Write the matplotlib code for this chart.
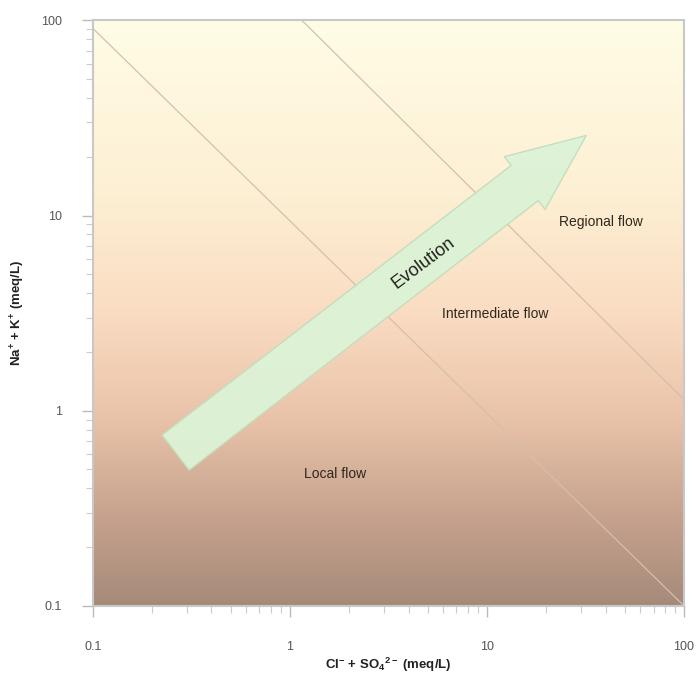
import numpy as np
import matplotlib
matplotlib.use("Agg")
import matplotlib.pyplot as plt
from matplotlib.colors import LinearSegmentedColormap

plt.rcParams['font.family'] = ['Liberation Sans', 'DejaVu Sans']

# boundary lines between flow systems (x, y in meq/L)
local_line_x = [0.1, 100]
local_line_y = [91, 0.1]
regional_line_x = [1.15, 100]
regional_line_y = [100, 1.14]

# evolution arrow, tail -> tip
arrow_tail = (0.263, 0.61)
arrow_tip = (31.9, 25.7)

# zone labels
zone_names = ['Local flow', 'Intermediate flow', 'Regional flow']
zone_x = [1.69, 11.0, 38.0]
zone_y = [0.475, 3.14, 9.3]
evo_pos = (4.77, 5.74)

ticks = [0.1, 1, 10, 100]
tick_labels = ['0.1', '1', '10', '100']

fig = plt.figure(figsize=(6.98, 6.77), dpi=100)
ax = fig.add_axes([0.133, 0.105, 0.847, 0.865])
ax.set_xscale('log')
ax.set_yscale('log')
ax.set_xlim(0.1, 100)
ax.set_ylim(0.1, 100)

# vertical background gradient, yellow at top to brown at bottom
bg = LinearSegmentedColormap.from_list('bg', [
    (0.0, '#a68a79'),
    (0.15, '#c6a28e'),
    (0.32, '#e9c3a9'),
    (0.5, '#fadcc2'),
    (0.7, '#fdefd3'),
    (1.0, '#fffde6'),
])
grad = np.linspace(0, 1, 256).reshape(-1, 1)
ax.imshow(grad, extent=[0, 1, 0, 1], transform=ax.transAxes, cmap=bg,
          aspect='auto', origin='lower', zorder=0)

ax.plot(local_line_x, local_line_y, color='#d4bfad', lw=0.9, zorder=1)
ax.plot(regional_line_x, regional_line_y, color='#d4bfad', lw=0.9, zorder=1)

ax.annotate('', xy=arrow_tip, xytext=arrow_tail,
            arrowprops=dict(arrowstyle='simple,head_length=56,head_width=48,tail_width=32',
                            mutation_scale=1, fc='#dcf3d6', ec='#c4dcbc', lw=1,
                            shrinkA=0, shrinkB=0, alpha=0.95),
            zorder=2)

ax.text(evo_pos[0], evo_pos[1], 'Evolution', rotation=37, fontsize=13,
        color='#22221c', ha='center', va='center', rotation_mode='anchor', zorder=3)
for name, zx, zy in zip(zone_names, zone_x, zone_y):
    ax.text(zx, zy, name, fontsize=10, color='#2f281e', ha='center', va='center', zorder=3)

ax.set_xticks(ticks)
ax.set_xticklabels(tick_labels)
ax.set_yticks(ticks)
ax.set_yticklabels(tick_labels)
ax.tick_params(which='major', direction='out', length=8, width=1, color='#bbbbbb',
               labelsize=9, labelcolor='#555555')
ax.tick_params(axis='x', which='major', pad=17)
ax.tick_params(axis='y', which='major', pad=14)
ax.tick_params(which='minor', direction='out', length=5, width=0.8, color='#cccccc')

for s in ax.spines.values():
    s.set_color('#c8c8c8')
    s.set_linewidth(1.5)

ax.set_xlabel(r'$\mathregular{Cl^{-}}$ + $\mathregular{SO_4{}^{2-}}$ (meq/L)', fontsize=9.5,
              color='#222222', fontweight='bold', labelpad=2)
ax.set_ylabel(r'$\mathregular{Na^{+}}$ + $\mathregular{K^{+}}$ (meq/L)', fontsize=9.5,
              color='#222222', fontweight='bold', labelpad=10)

fig.savefig('out.png', dpi=100)
